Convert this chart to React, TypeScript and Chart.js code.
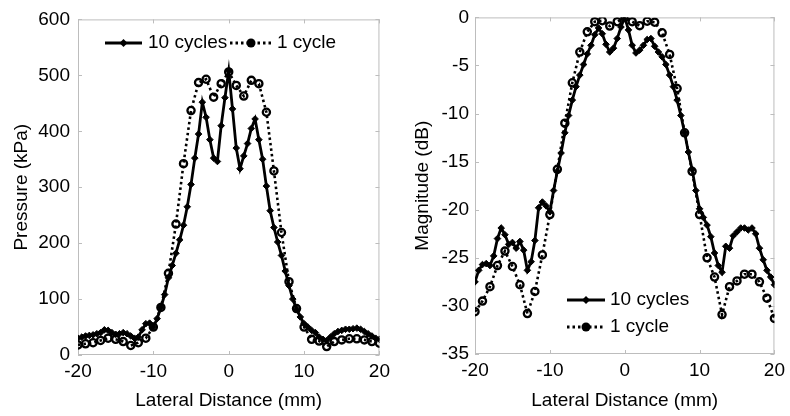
import React, { useEffect, useRef } from "react";
import { Chart, registerables } from "chart.js";
Chart.register(...registerables);

const FONT = '"Liberation Sans", Arial, Helvetica, sans-serif';

// Lateral positions (mm)
const distanceFine = [
  -20, -19.5, -19, -18.5, -18, -17.5, -17, -16.5, -16, -15.5,
  -15, -14.5, -14, -13.5, -13, -12.5, -12, -11.5, -11, -10.5,
  -10, -9.5, -9, -8.5, -8, -7.5, -7, -6.5, -6, -5.5,
  -5, -4.5, -4, -3.5, -3, -2.5, -2, -1.5, -1, -0.5,
  0, 0.5, 1, 1.5, 2, 2.5, 3, 3.5, 4, 4.5,
  5, 5.5, 6, 6.5, 7, 7.5, 8, 8.5, 9, 9.5,
  10, 10.5, 11, 11.5, 12, 12.5, 13, 13.5, 14, 14.5,
  15, 15.5, 16, 16.5, 17, 17.5, 18, 18.5, 19, 19.5,
  20,
];
const distanceCoarse = [
  -20, -19, -18, -17, -16, -15, -14, -13, -12, -11,
  -10, -9, -8, -7, -6, -5, -4, -3, -2, -1,
  0, 1, 2, 3, 4, 5, 6, 7, 8, 9,
  10, 11, 12, 13, 14, 15, 16, 17, 18, 19,
  20,
];

// Pressure (kPa)
const pressureTenCycles = [
  30, 32, 34, 35, 36, 38, 40, 45, 44, 40,
  37, 38, 40, 38, 34, 30, 32, 45, 56, 57,
  50, 65, 85, 108, 138, 160, 182, 206, 232, 265,
  305, 352, 395, 452, 425, 385, 352, 346, 410, 460,
  508, 440, 370, 333, 356, 378, 405, 422, 385, 350,
  302, 258, 228, 202, 178, 150, 124, 100, 82, 68,
  56, 50, 44, 40, 32, 28, 26, 32, 38, 42,
  44, 46, 46, 47, 48, 46, 42, 38, 34, 30,
  28,
];
const pressureOneCycle = [
  18, 20, 22, 26, 30, 28, 24, 17, 22, 30,
  50, 85, 146, 234, 342, 437, 487, 493, 461, 485,
  506, 482, 463, 491, 485, 434, 329, 219, 131, 83,
  50, 28, 25, 15, 24, 27, 29, 29, 27, 24,
  21,
];

// Magnitude (dB)
const magnitudeTenCycles = [
  -27.5, -26.3, -25.7, -25.6, -25.8, -24.8, -23.0, -21.9, -22.6, -23.6,
  -23.4, -24.0, -23.3, -24.2, -26.3, -25.4, -23.2, -19.8, -19.2, -19.6,
  -20.2, -18.0, -16.0, -14.1, -12.0, -10.2, -8.6, -7.2, -6.0, -4.9,
  -3.8, -2.9, -1.8, -1.1, -1.7, -2.8, -3.6, -3.2, -2.2, -1.0,
  0, -1.3, -2.9, -3.7, -3.4, -2.9, -2.3, -2.2, -3.0, -3.6,
  -4.1, -4.9, -6.0, -7.2, -8.6, -10.2, -12.0, -14.0, -15.8, -18.0,
  -19.9, -20.8, -21.6, -22.8, -24.5, -25.8, -26.5, -23.8, -24.0, -22.7,
  -22.3, -21.9, -21.9, -22.1, -21.9, -22.5, -24.0, -25.2, -26.3, -27.0,
  -27.8,
];
const magnitudeOneCycle = [
  -30.6, -29.5, -28.0, -25.8, -24.3, -25.9, -27.8, -30.8, -28.5, -24.7,
  -20.5, -15.8, -11.0, -6.8, -3.6, -1.5, -0.45, -0.35, -0.9, -0.45,
  0, -0.45, -0.86, -0.4, -0.5, -1.6, -3.85, -7.4, -12.0, -16.0,
  -20.5, -25.0, -27.0, -30.9, -28.0, -27.4, -26.7, -26.7, -27.5, -29.2,
  -31.3,
];

const xTicks = [-20, -10, 0, 10, 20];
const pressureTicks = [0, 100, 200, 300, 400, 500, 600];
const magnitudeTicks = [-35, -30, -25, -20, -15, -10, -5, 0];
const seriesLabels = ["10 cycles", "1 cycle"];
const xTitle = "Lateral Distance (mm)";

type LegendItem = { kind: "ten" | "one"; x0: number; x1: number; tx: number; y: number; text: string };

type PanelProps = {
  left: number;
  yTicks: number[];
  yTitle: string;
  ten: number[];
  one: number[];
  yAxisWidth: number;
  xAxisHeight: number;
  rightPad: number;
  yTitlePad: number;
  yTickPad: number;
  legend: LegendItem[];
};

function drawDiamond(ctx: CanvasRenderingContext2D, x: number, y: number, r: number) {
  ctx.beginPath();
  ctx.moveTo(x, y - r);
  ctx.lineTo(x + r, y);
  ctx.lineTo(x, y + r);
  ctx.lineTo(x - r, y);
  ctx.closePath();
  ctx.fill();
}

function Panel(p: PanelProps) {
  const ref = useRef<HTMLCanvasElement | null>(null);
  useEffect(() => {
    const canvas = ref.current;
    if (!canvas) return;
    const framePlugin = {
      id: "frame",
      beforeDatasetsDraw(chart: any) {
        const { ctx, chartArea: a, scales } = chart;
        ctx.save();
        ctx.strokeStyle = "#bdbdbd";
        ctx.lineWidth = 1;
        ctx.strokeRect(a.left + 0.5, a.top + 0.5, a.right - a.left - 1, a.bottom - a.top - 1);
        ctx.beginPath();
        const tl = 4;
        xTicks.forEach((v) => {
          const x = Math.round(scales.x.getPixelForValue(v)) + 0.5;
          ctx.moveTo(x, a.bottom);
          ctx.lineTo(x, a.bottom - tl);
          ctx.moveTo(x, a.top);
          ctx.lineTo(x, a.top + tl);
        });
        p.yTicks.forEach((v) => {
          const y = Math.round(scales.y.getPixelForValue(v)) + 0.5;
          ctx.moveTo(a.left, y);
          ctx.lineTo(a.left + tl, y);
          ctx.moveTo(a.right, y);
          ctx.lineTo(a.right - tl, y);
        });
        ctx.stroke();
        ctx.restore();
      },
      afterDraw(chart: any) {
        const ctx: CanvasRenderingContext2D = chart.ctx;
        ctx.save();
        p.legend.forEach((it) => {
          ctx.strokeStyle = "#000";
          ctx.fillStyle = "#000";
          ctx.lineWidth = 2.8;
          ctx.setLineDash(it.kind === "ten" ? [] : [2.5, 3]);
          ctx.beginPath();
          ctx.moveTo(it.x0, it.y);
          ctx.lineTo(it.x1, it.y);
          ctx.stroke();
          ctx.setLineDash([]);
          const mx = (it.x0 + it.x1) / 2;
          if (it.kind === "ten") {
            drawDiamond(ctx, mx, it.y, 4);
          } else {
            ctx.beginPath();
            ctx.arc(mx, it.y, 4.5, 0, Math.PI * 2);
            ctx.fill();
          }
          ctx.font = `19px ${FONT}`;
          ctx.textBaseline = "middle";
          ctx.textAlign = "left";
          ctx.fillText(it.text, it.tx, it.y);
        });
        ctx.restore();
      },
    };

    const chart = new Chart(canvas, {
      type: "line",
      data: {
        datasets: [
          {
            label: seriesLabels[0],
            data: distanceFine.map((x, i) => ({ x, y: p.ten[i] })),
            borderColor: "#000",
            backgroundColor: "#000",
            borderWidth: 2.8,
            pointStyle: "rectRot",
            pointRadius: 3.3,
            pointBorderWidth: 1,
            pointBackgroundColor: "#000",
            pointBorderColor: "#000",
            tension: 0,
            order: 2,
          },
          {
            label: seriesLabels[1],
            data: distanceCoarse.map((x, i) => ({ x, y: p.one[i] })),
            borderColor: "#000",
            backgroundColor: "rgba(0,0,0,0)",
            borderWidth: 2.6,
            borderDash: [2.5, 3],
            pointStyle: "circle",
            pointRadius: 3.6,
            pointBorderWidth: 2.3,
            pointBackgroundColor: "rgba(255,255,255,0)",
            pointBorderColor: "#000",
            tension: 0,
            order: 1,
          },
        ],
      },
      options: {
        animation: false,
        responsive: false,
        maintainAspectRatio: false,
        layout: { padding: { top: 15, right: p.rightPad, left: 0, bottom: 0 } },
        plugins: { legend: { display: false }, tooltip: { enabled: false } },
        scales: {
          x: {
            type: "linear",
            min: -20,
            max: 20,
            afterBuildTicks: (s: any) => {
              s.ticks = xTicks.map((v) => ({ value: v }));
            },
            ticks: { color: "#000", font: { family: FONT, size: 19 }, padding: 5, maxRotation: 0 },
            grid: { display: false, drawTicks: false },
            border: { display: false },
            title: {
              display: true,
              text: xTitle,
              color: "#000",
              font: { family: FONT, size: 19 },
              padding: { top: 0, bottom: 4 },
            },
            afterFit: (s: any) => {
              s.height = p.xAxisHeight;
            },
          },
          y: {
            type: "linear",
            min: p.yTicks[0],
            max: p.yTicks[p.yTicks.length - 1],
            afterBuildTicks: (s: any) => {
              s.ticks = p.yTicks.map((v) => ({ value: v }));
            },
            ticks: { color: "#000", font: { family: FONT, size: 19 }, padding: p.yTickPad },
            grid: { display: false, drawTicks: false },
            border: { display: false },
            title: {
              display: true,
              text: p.yTitle,
              color: "#000",
              font: { family: FONT, size: 19 },
              padding: { top: p.yTitlePad, bottom: 0 },
            },
            afterFit: (s: any) => {
              s.width = p.yAxisWidth;
            },
          },
        },
      } as any,
      plugins: [framePlugin],
    });
    return () => chart.destroy();
  }, []);
  return (
    <canvas
      ref={ref}
      width={395}
      height={416}
      style={{ position: "absolute", left: p.left, top: 0, width: 395, height: 416 }}
    />
  );
}

export default function App() {
  return (
    <div style={{ position: "absolute", left: 0, top: 0, width: 790, height: 416, background: "#fff" }}>
      <Panel
        left={0}
        yTicks={pressureTicks}
        yTitle="Pressure (kPa)"
        ten={pressureTenCycles}
        one={pressureOneCycle}
        yAxisWidth={78}
        xAxisHeight={61}
        rightPad={14}
        yTitlePad={10}
        yTickPad={8}
        legend={[
          { kind: "ten", x0: 105, x1: 142, tx: 148, y: 43, text: seriesLabels[0] },
          { kind: "one", x0: 230, x1: 272, tx: 277, y: 43, text: seriesLabels[1] },
        ]}
      />
      <Panel
        left={395}
        yTicks={magnitudeTicks}
        yTitle="Magnitude (dB)"
        ten={magnitudeTenCycles}
        one={magnitudeOneCycle}
        yAxisWidth={80}
        xAxisHeight={62}
        rightPad={12}
        yTitlePad={16}
        yTickPad={6}
        legend={[
          { kind: "ten", x0: 172, x1: 210, tx: 215, y: 300, text: seriesLabels[0] },
          { kind: "one", x0: 172, x1: 210, tx: 215, y: 327, text: seriesLabels[1] },
        ]}
      />
    </div>
  );
}
